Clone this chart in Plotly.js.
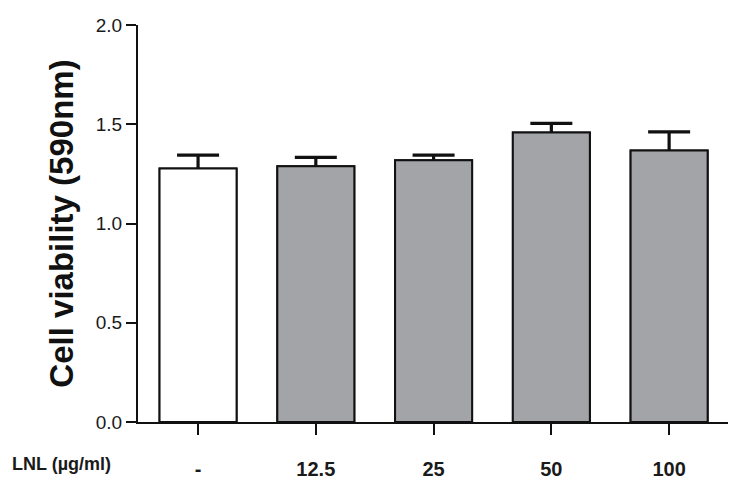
<!DOCTYPE html>
<html>
<head>
<meta charset="utf-8">
<script src="https://cdn.plot.ly/plotly-3.0.1.min.js"></script>
<style>html,body{margin:0;padding:0;background:#fff;}#chart{width:745px;height:490px;}</style>
</head>
<body>
<div id="chart"></div>
<script>
const categories = ["-", "12.5", "25", "50", "100"];
const viability = [1.277, 1.289, 1.319, 1.459, 1.368];
const sem = [0.067, 0.044, 0.025, 0.045, 0.094];
const barColors = ["#ffffff", "#a3a4a8", "#a3a4a8", "#a3a4a8", "#a3a4a8"];
const yTicks = [0, 0.5, 1.0, 1.5, 2.0];

const barStyle = {color: barColors, line: {color: "#111111", width: 2}};

// first copy carries symmetric error bars; the second identical copy on top hides the lower half
const errTrace = {
  type: "bar", x: categories, y: viability, width: 0.654, marker: barStyle,
  error_y: {type: "data", array: sem, symmetric: true, color: "#111111", thickness: 3.2, width: 21},
  hoverinfo: "none"
};
const barTrace = {
  type: "bar", x: categories, y: viability, width: 0.654, marker: barStyle,
  hoverinfo: "none"
};

const layout = {
  width: 745, height: 490,
  margin: {l: 138, r: 17, t: 25, b: 68},
  barmode: "overlay",
  paper_bgcolor: "#ffffff", plot_bgcolor: "#ffffff",
  showlegend: false,
  font: {family: "Arial, Liberation Sans, sans-serif", color: "#1a1a1a"},
  xaxis: {
    type: "category", range: [-0.51, 4.5],
    showline: true, linecolor: "#111111", linewidth: 2,
    ticks: "outside", ticklen: 11, tickwidth: 2, tickcolor: "#111111",
    tickfont: {size: 20, family: "Arial, Liberation Sans, sans-serif", weight: "bold", color: "#1a1a1a"},
    ticklabelstandoff: 17,
    showgrid: false, zeroline: false, fixedrange: true
  },
  yaxis: {
    range: [0, 2.0], tickvals: yTicks, tickformat: ".1f",
    showline: true, linecolor: "#111111", linewidth: 2,
    ticks: "outside", ticklen: 10, tickwidth: 2, tickcolor: "#111111",
    tickfont: {size: 19, family: "Arial, Liberation Sans, sans-serif", color: "#1a1a1a"},
    showgrid: false, zeroline: false, fixedrange: true,
    title: {text: "<b>Cell viability (590nm)</b>", standoff: 12,
            font: {size: 33, family: "Arial, Liberation Sans, sans-serif", color: "#111111"}}
  },
  annotations: [{
    text: "<b>LNL (µg/ml)</b>", xref: "paper", yref: "paper",
    x: -0.042, y: -0.107, xanchor: "right", yanchor: "middle", showarrow: false,
    font: {size: 18, family: "Arial, Liberation Sans, sans-serif", color: "#1a1a1a"}
  }]
};

Plotly.newPlot("chart", [errTrace, barTrace], layout, {displayModeBar: false, staticPlot: true});
</script>
</body>
</html>
